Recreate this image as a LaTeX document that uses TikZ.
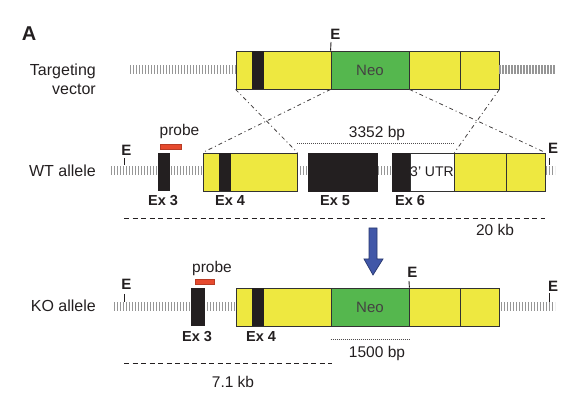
\documentclass[tikz,border=0pt]{standalone}
\usepackage{fontspec}
\setmainfont{Liberation Sans}
\definecolor{exyellow}{RGB}{238,232,64}
\definecolor{exgreen}{RGB}{85,183,78}
\definecolor{exblack}{RGB}{35,31,32}
\definecolor{exred}{RGB}{230,74,46}
\definecolor{exblue}{RGB}{65,87,168}
\definecolor{exbluedark}{RGB}{40,55,110}
\definecolor{hatchgray}{RGB}{150,150,150}
\definecolor{outline}{RGB}{50,50,50}
\tikzset{
  box/.style={draw=outline, line width=0.8pt, inner sep=0pt, minimum height=38pt},
  ybox/.style={box, fill=exyellow},
  gbox/.style={box, fill=exgreen, font=\fontsize{15}{18}\selectfont, text=exblack!85},
  wbox/.style={box, fill=white, font=\fontsize{14}{16}\selectfont, text=exblack},
  bbox/.style={draw=exblack, fill=exblack, line width=0.8pt, inner sep=0pt, minimum height=38pt},
  probebar/.style={draw=exred!80!black, fill=exred, line width=0.4pt, inner sep=0pt, minimum height=5pt},
  hatch/.style={hatchgray, line width=9pt, dash pattern=on 1.3pt off 1.7pt},
  lbl/.style={font=\fontsize{16}{19}\selectfont, text=exblack, inner sep=0pt},
  exlbl/.style={font=\bfseries\fontsize{14.5}{17}\selectfont, text=exblack, inner sep=0pt},
  elbl/.style={font=\bfseries\fontsize{15}{17}\selectfont, text=exblack, inner sep=0pt},
  etick/.style={draw=exblack, line width=0.9pt},
  map/.style={draw=exblack!85, line width=0.8pt, dash pattern=on 4pt off 3pt on 1pt off 3pt},
  fine/.style={draw=exblack!80, line width=0.6pt, dash pattern=on 0.8pt off 1.2pt},
  kb/.style={draw=exblack, line width=0.8pt, dash pattern=on 5pt off 3.5pt},
}
\begin{document}
\begin{tikzpicture}[x=1pt,y=-1pt]
\useasboundingbox (0,0) rectangle (582,401);

\node[font=\bfseries\fontsize{20}{22}\selectfont, text=exblack, inner sep=0pt] (panelA) at (29,33.5) {A};

% ---------------- Targeting vector ----------------
\node[lbl, anchor=east, align=right] (tvlabel) at (96,79) {Targeting\\vector};
\coordinate (tvHL0) at (130,70);
\coordinate (tvHR1) at (555,70);
\node[ybox, minimum width=95pt] (tvY1) at (283.5,70) {};
\draw[hatch] (tvHL0) -- (tvY1.west);
\node[bbox, minimum width=12pt, draw=none] (tvB1) at (258,70) {};
\node[gbox, minimum width=78pt] (tvNeo) at (370,70) {Neo};
\node[ybox, minimum width=51pt] (tvY2) at (434.5,70) {};
\node[ybox, minimum width=39pt] (tvY3) at (479.5,70) {};
\draw[hatch] (tvY3.east) -- (tvHR1);
\coordinate (tvEt) at (331,42);
\draw[etick] (tvEt) -- (tvNeo.north west);
\node[elbl] (tvE) at (335.5,34) {E};

% ---------------- WT allele ----------------
\node[lbl, anchor=east] (wtlabel) at (96,171) {WT allele};
\coordinate (wtH0) at (111,171);
\coordinate (wtH1) at (555,171);
\draw[hatch] (wtH0) -- (wtH1);
\node[bbox, minimum width=11pt, minimum height=37pt] (wtEx3) at (163.5,171.5) {};
\node[probebar, minimum width=21pt] (wtProbe) at (170.5,146.5) {};
\node[lbl, font=\fontsize{15.5}{18}\selectfont] (wtProbeL) at (179.5,131) {probe};
\node[ybox, minimum width=94pt] (wtY1) at (250,172) {};
\node[bbox, minimum width=12pt, draw=none] (wtB4) at (225,172) {};
\node[bbox, minimum width=69pt] (wtEx5) at (342.5,172) {};
\node[bbox, minimum width=18pt] (wtEx6) at (401,172) {};
\node[wbox, minimum width=44pt] (wtUTR) at (432,172) {3' UTR};
\node[ybox, minimum width=52pt] (wtY2) at (480,172) {};
\node[ybox, minimum width=39pt] (wtY3) at (525.5,172) {};
\coordinate (wtEt0) at (124,158);
\coordinate (wtEb0) at (124,165.5);
\draw[etick] (wtEt0) -- (wtEb0);
\node[elbl] (wtE0) at (126.5,150) {E};
\coordinate (wtEt1) at (549,158);
\coordinate (wtEb1) at (549,165.5);
\draw[etick] (wtEt1) -- (wtEb1);
\node[elbl] (wtE1) at (553,148) {E};
\node[exlbl] (wtEx3L) at (163,201) {Ex 3};
\node[exlbl] (wtEx4L) at (230,201) {Ex 4};
\node[exlbl] (wtEx5L) at (335,201) {Ex 5};
\node[exlbl] (wtEx6L) at (410,201) {Ex 6};
% 3352 bp
\node[lbl, font=\fontsize{15.5}{18}\selectfont] (bp3352) at (377,133) {3352 bp};
\draw[fine] ([yshift=9pt]wtY1.north east) -- ([yshift=9pt]wtUTR.north east);
% 20 kb
\coordinate (kb20a) at (124,218);
\coordinate (kb20b) at (545,218);
\draw[kb] (kb20a) -- (kb20b);
\node[lbl, font=\fontsize{15.5}{18}\selectfont] (kb20) at (495,230) {20 kb};

% mapping lines
\draw[map] (tvY1.south west) -- (wtY1.north east);
\draw[map] (tvNeo.south west) -- (wtY1.north west);
\draw[map] (tvNeo.south east) -- (wtY3.north east);
\draw[map] (tvY3.south east) -- (wtUTR.north east);

% blue arrow
\draw[fill=exblue, draw=exbluedark, line width=0.7pt, line join=miter]
  (369,228) -- (377,228) -- (377,259) -- (383,259) -- (373,275) -- (364,259) -- (369,259) -- cycle;

% ---------------- KO allele ----------------
\node[lbl, anchor=east] (kolabel) at (96,306) {KO allele};
\coordinate (koH0) at (114,307);
\coordinate (koH1) at (555,307);
\draw[hatch] (koH0) -- (koH1);
\node[bbox, minimum width=13pt, minimum height=37pt] (koEx3) at (197.5,306.5) {};
\node[probebar, minimum width=19pt] (koProbe) at (204.5,281.5) {};
\node[lbl, font=\fontsize{15.5}{18}\selectfont] (koProbeL) at (212,268) {probe};
\node[ybox, minimum width=95pt] (koY1) at (283.5,307) {};
\node[bbox, minimum width=12pt, draw=none] (koB4) at (258,307) {};
\node[gbox, minimum width=78pt] (koNeo) at (370,307) {Neo};
\node[ybox, minimum width=51pt] (koY2) at (434.5,307) {};
\node[ybox, minimum width=39pt] (koY3) at (479.5,307) {};
\coordinate (koEt0) at (124,294);
\coordinate (koEb0) at (124,302);
\draw[etick] (koEt0) -- (koEb0);
\node[elbl] (koE0) at (126.5,284) {E};
\coordinate (koEtN) at (409,281);
\draw[etick] (koEtN) -- (koNeo.north east);
\node[elbl] (koEN) at (412.5,272) {E};
\coordinate (koEt1) at (549,293);
\coordinate (koEb1) at (549,302);
\draw[etick] (koEt1) -- (koEb1);
\node[elbl] (koE1) at (553,286) {E};
\node[exlbl] (koEx3L) at (197,337) {Ex 3};
\node[exlbl] (koEx4L) at (261,337) {Ex 4};
% 1500 bp
\draw[fine] ([yshift=-13pt]koNeo.south west) -- ([yshift=-13pt]koNeo.south east);
\node[lbl, font=\fontsize{15.5}{18}\selectfont] (bp1500) at (377,353) {1500 bp};
% 7.1 kb
\coordinate (kb71a) at (124,363);
\coordinate (kb71b) at (332,363);
\draw[kb] (kb71a) -- (kb71b);
\node[lbl, font=\fontsize{15.5}{18}\selectfont] (kb71) at (233,382) {7.1 kb};
\end{tikzpicture}
\end{document}
